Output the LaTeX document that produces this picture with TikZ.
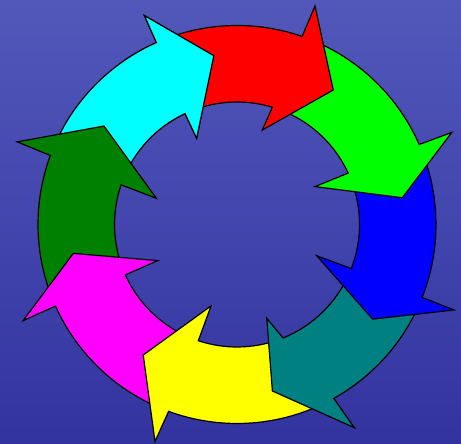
\documentclass[tikz,border=0pt]{standalone}
\usepackage{xcolor}
\usepackage{tikz}
\usetikzlibrary{arrows.meta, positioning, calc}
\definecolor{bgtop}{HTML}{5258BA}
\definecolor{bgbot}{HTML}{3333A0}
\definecolor{redarr}{HTML}{FF0000}
\definecolor{greenarr}{HTML}{00FF00}
\definecolor{bluearr}{HTML}{0000FF}
\definecolor{tealarr}{HTML}{008080}
\definecolor{yellowarr}{HTML}{FFFF00}
\definecolor{magentaarr}{HTML}{FF00FF}
\definecolor{dkgreenarr}{HTML}{008000}
\definecolor{cyanarr}{HTML}{00FFFF}

% ring radii (outer / inner edge of the band)
\newcommand{\ringout}{199pt}
\newcommand{\ringin}{122.5pt}
% #1 colour, #2/#3 tail angle outer/inner, #4 neck angle outer,
% #5 outer barb, #6 tip, #7 inner barb, #8 neck angle inner
\newcommand{\ringarrow}[8]{%
  \filldraw[ringpart, fill=#1] (#2:\ringout)
    arc[start angle=#2, end angle=#4, radius=\ringout]
    -- (#5) -- (#6) -- (#7) -- (#8:\ringin)
    arc[start angle=#8, end angle=#3, radius=\ringin] -- cycle;}

\begin{document}
\begin{tikzpicture}[
    x=1pt, y=1pt,
    ringpart/.style={draw=black, line width=1.2pt, line join=miter},
]
    % Background
    \useasboundingbox (-237,-219.5) rectangle (224,224.5);
    \shade[top color=bgtop, bottom color=bgbot] (-237,-219.5) rectangle (224,224.5);

    % Arrows, drawn against the clock so each head lies on the next tail
    \ringarrow{cyanarr}{157.2}{158.6}{113.9}{113.9:228.5}{97.8:170.4}{115.1:95.2}{115.1}
    \ringarrow{dkgreenarr}{-158.3}{-158.2}{-200.3}{-200.6:234.8}{-216.5:165.5}{-198.0:84.8}{-198.9}
    \ringarrow{magentaarr}{-112.6}{-110.9}{-155.8}{-155.8:234.4}{-170.0:166.2}{-155.5:87.2}{-155.7}
    \ringarrow{yellowarr}{-63.4}{-70.4}{-110.1}{-110.7:232}{-125.7:160.7}{-107.7:85.5}{-108.4}
    \ringarrow{tealarr}{-24.0}{-23.6}{-60.9}{-60.0:234.6}{-78.0:170.2}{-72.4:98.4}{-67.9}
    \ringarrow{bluearr}{21.2}{22.3}{-21.5}{-21.5:233.2}{-34.9:165.4}{-21.4:85.6}{-21.1}
    \ringarrow{greenarr}{68.4}{70.7}{23.7}{23.2:233.7}{9.2:167.5}{25.9:86.7}{24.8}
    \ringarrow{redarr}{111.4}{112.6}{70.9}{70.35:232}{54.4:165.4}{75.0:97.8}{73.2}

    % Cyan head again, on top of the red tail
    \begin{scope}
        \clip (0,0) -- (90:240) -- (125:240) -- cycle;
        \ringarrow{cyanarr}{157.2}{158.6}{113.9}{113.9:228.5}{97.8:170.4}{115.1:95.2}{115.1}
    \end{scope}
\end{tikzpicture}
\end{document}
